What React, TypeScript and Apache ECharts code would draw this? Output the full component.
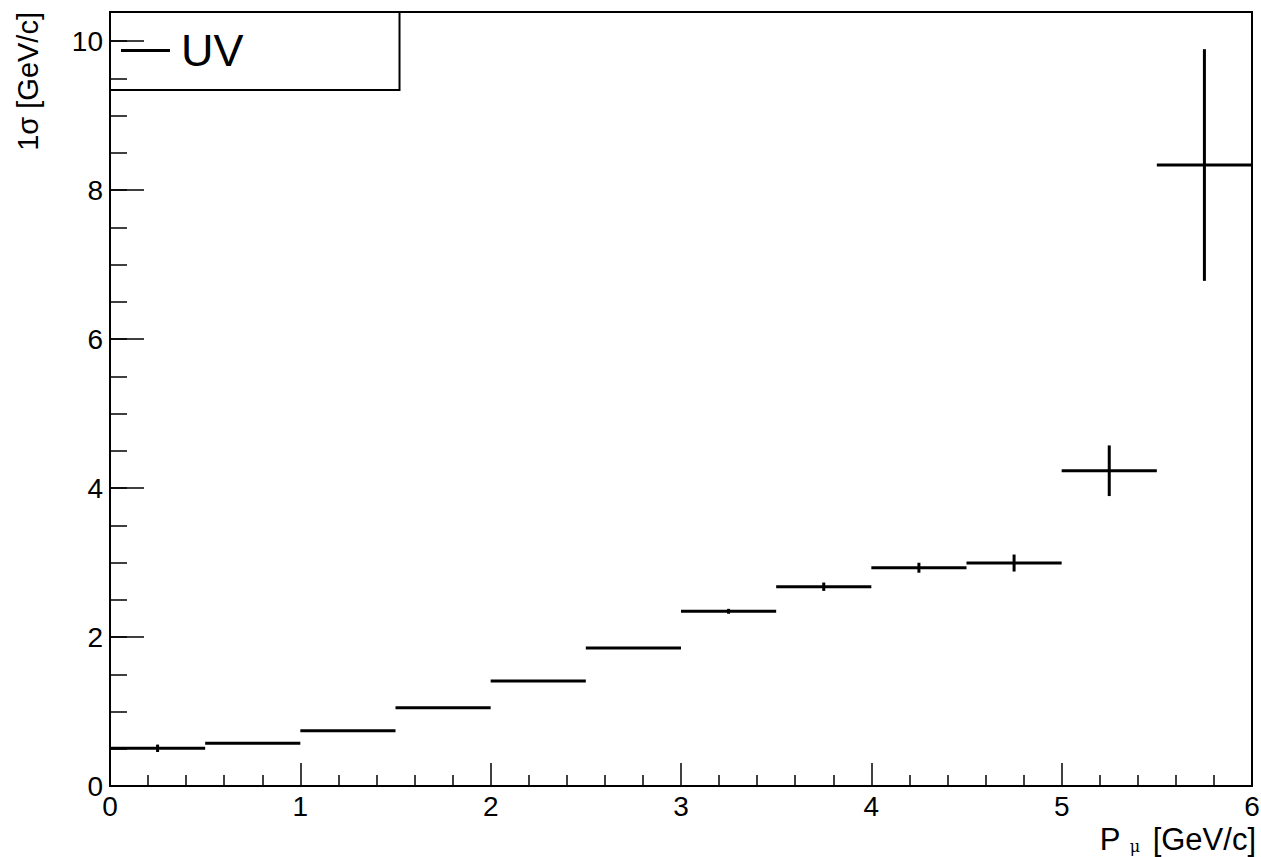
import React, { useEffect, useRef } from 'react';
import * as echarts from 'echarts';

// Momentum bins [GeV/c]
const binEdges = [0, 0.5, 1, 1.5, 2, 2.5, 3, 3.5, 4, 4.5, 5, 5.5, 6];
// 1-sigma width per bin [GeV/c]
const sigmaValues = [0.506, 0.573, 0.742, 1.051, 1.409, 1.852, 2.345, 2.675, 2.93, 2.993, 4.232, 8.336];
// Statistical error on the width
const sigmaErrors = [0.05, 0.005, 0.005, 0.005, 0.005, 0.008, 0.033, 0.056, 0.067, 0.114, 0.34, 1.555];

const seriesName = 'UV';
const xRange = [0, 6];
const yRange = [0, 10.39];

const FONT = '"Liberation Sans", Arial, Helvetica, sans-serif';
const LABEL_SIZE = 28;
const TITLE_SIZE = 29;
const X_TITLE_SIZE = 31;

export default function App() {
  const ref = useRef<HTMLDivElement>(null);

  useEffect(() => {
    if (!ref.current) return;
    const chart = echarts.init(ref.current, undefined, { renderer: 'svg' });

    const data = sigmaValues.map((v, i) => [binEdges[i], binEdges[i + 1], v, sigmaErrors[i]]);

    chart.setOption({
      animation: false,
      backgroundColor: '#fff',
      grid: {
        left: 110,
        right: 9,
        top: 12,
        bottom: 71,
        show: true,
        borderColor: '#000',
        borderWidth: 2,
        backgroundColor: 'transparent',
        containLabel: false,
        outerBoundsMode: 'none',
      },
      legend: {
        left: 110,
        top: 12,
        padding: [16, 156, 17, 11],
        borderColor: '#000',
        borderWidth: 2,
        itemWidth: 49,
        itemHeight: 3,
        icon: 'rect',
        textStyle: { fontSize: 45, color: '#000', fontFamily: FONT, padding: [0, 0, 0, 6] },
        data: [{ name: seriesName, icon: 'rect', itemStyle: { color: '#000' } }],
      },
      xAxis: {
        type: 'value',
        min: xRange[0],
        max: xRange[1],
        interval: 1,
        axisLine: { show: true, lineStyle: { color: '#000', width: 2 } },
        axisTick: { show: true, inside: true, length: 23, lineStyle: { color: '#000', width: 1.5 } },
        minorTick: { show: true, splitNumber: 5, length: 11, lineStyle: { color: '#000', width: 1.5 } },
        splitLine: { show: false },
        axisLabel: { color: '#000', fontSize: LABEL_SIZE, fontFamily: FONT, margin: 6 },
      },
      yAxis: [
        {
          type: 'value',
          min: yRange[0],
          max: yRange[1],
          interval: 2,
          axisLine: { show: true, lineStyle: { color: '#000', width: 2 } },
          axisTick: { show: true, inside: true, length: 34, lineStyle: { color: '#000', width: 1.5 } },
          splitLine: { show: false },
          axisLabel: {
            color: '#000',
            fontSize: LABEL_SIZE,
            fontFamily: FONT,
            margin: 7,
            formatter: (v: number) => (Number.isInteger(v) ? String(v) : ''),
          },
        },
        {
          // minor ticks every 0.5
          type: 'value',
          position: 'left',
          min: yRange[0],
          max: yRange[1],
          interval: 0.5,
          axisLine: { show: false },
          axisTick: { show: true, inside: true, length: 17, lineStyle: { color: '#000', width: 1.5 } },
          splitLine: { show: false },
          axisLabel: { show: false },
        },
      ],
      graphic: [
        {
          type: 'text',
          x: 28,
          y: 12,
          rotation: Math.PI / 2,
          style: {
            text: '1σ [GeV/c]',
            fontSize: TITLE_SIZE,
            fontFamily: FONT,
            fill: '#000',
            textAlign: 'right',
            textVerticalAlign: 'middle',
          },
        },
        {
          type: 'text',
          x: 1256,
          y: 839,
          style: {
            text: '[GeV/c]',
            fontSize: X_TITLE_SIZE,
            fontFamily: FONT,
            fill: '#000',
            textAlign: 'right',
            textVerticalAlign: 'middle',
          },
        },
        {
          type: 'text',
          x: 1135,
          y: 846,
          style: {
            text: 'μ',
            fontSize: 16,
            fontFamily: '"DejaVu Serif", "Liberation Serif", serif',
            fill: '#000',
            textAlign: 'center',
            textVerticalAlign: 'middle',
          },
        },
        {
          type: 'text',
          x: 1110,
          y: 839,
          style: {
            text: 'P',
            fontSize: X_TITLE_SIZE,
            fontFamily: FONT,
            fill: '#000',
            textAlign: 'center',
            textVerticalAlign: 'middle',
          },
        },
      ],
      series: [
        {
          name: seriesName,
          type: 'custom',
          xAxisIndex: 0,
          yAxisIndex: 0,
          itemStyle: { color: '#000' },
          encode: { x: [0, 1], y: 2 },
          data,
          renderItem: (_params: any, api: any) => {
            const lo = api.value(0);
            const hi = api.value(1);
            const y = api.value(2);
            const e = api.value(3);
            const mid = (lo + hi) / 2;
            const l = api.coord([lo, y]);
            const r = api.coord([hi, y]);
            const t = api.coord([mid, y + e]);
            const b = api.coord([mid, y - e]);
            return {
              type: 'group',
              children: [
                {
                  type: 'line',
                  shape: { x1: l[0], y1: l[1], x2: r[0], y2: r[1] },
                  style: { stroke: '#000', lineWidth: 3 },
                },
                {
                  type: 'line',
                  shape: { x1: t[0], y1: t[1], x2: b[0], y2: b[1] },
                  style: { stroke: '#000', lineWidth: 3 },
                },
              ],
            };
          },
        },
      ],
    });

    return () => chart.dispose();
  }, []);

  return (
    <div
      ref={ref}
      style={{ position: 'absolute', left: 0, top: 0, width: 1261, height: 857 }}
    />
  );
}
